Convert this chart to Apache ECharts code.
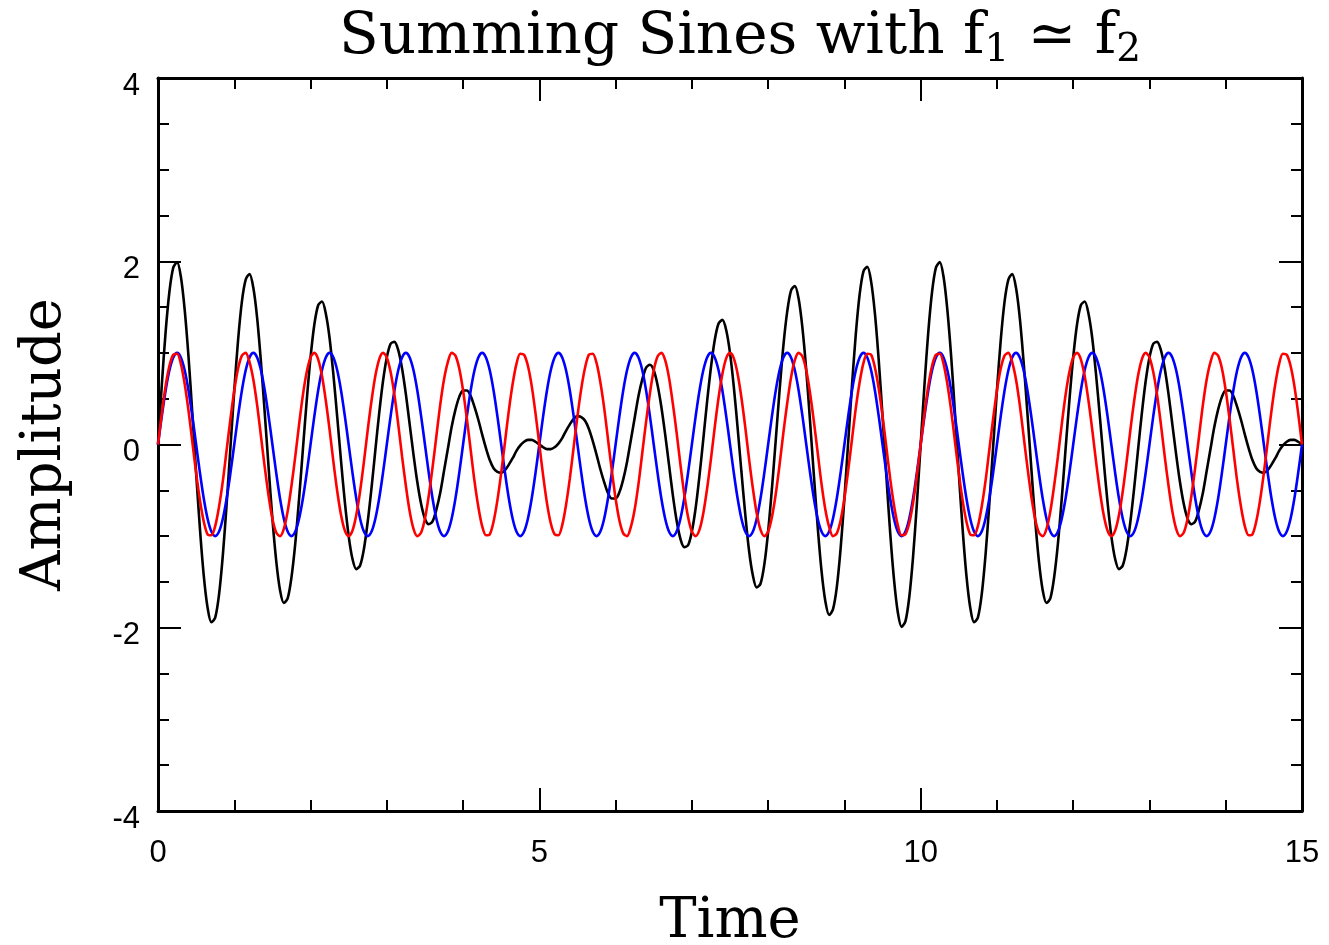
<!DOCTYPE html>
<html>
<head>
<meta charset="utf-8">
<script src="https://cdn.jsdelivr.net/npm/echarts@6/dist/echarts.min.js"></script>
<style>html,body{margin:0;padding:0;background:#fff}#chart{width:1329px;height:945px}</style>
</head>
<body>
<div id="chart"></div>
<script>
const titleParts = ['Summing Sines with f', '1', ' \u2243 f', '2'];
const xTitle = 'Time';
const yTitle = 'Amplitude';
const xTicks = [0, 5, 10, 15];
const yTicks = [-4, -2, 0, 2, 4];

const time = [
0,0.05,0.1,0.15,0.2,0.25,0.3,0.35,0.4,0.45,0.5,0.55,0.6,0.65,0.7,0.75,0.8,0.85,0.9,0.95,
1,1.05,1.1,1.15,1.2,1.25,1.3,1.35,1.4,1.45,1.5,1.55,1.6,1.65,1.7,1.75,1.8,1.85,1.9,1.95,
2,2.05,2.1,2.15,2.2,2.25,2.3,2.35,2.4,2.45,2.5,2.55,2.6,2.65,2.7,2.75,2.8,2.85,2.9,2.95,
3,3.05,3.1,3.15,3.2,3.25,3.3,3.35,3.4,3.45,3.5,3.55,3.6,3.65,3.7,3.75,3.8,3.85,3.9,3.95,
4,4.05,4.1,4.15,4.2,4.25,4.3,4.35,4.4,4.45,4.5,4.55,4.6,4.65,4.7,4.75,4.8,4.85,4.9,4.95,
5,5.05,5.1,5.15,5.2,5.25,5.3,5.35,5.4,5.45,5.5,5.55,5.6,5.65,5.7,5.75,5.8,5.85,5.9,5.95,
6,6.05,6.1,6.15,6.2,6.25,6.3,6.35,6.4,6.45,6.5,6.55,6.6,6.65,6.7,6.75,6.8,6.85,6.9,6.95,
7,7.05,7.1,7.15,7.2,7.25,7.3,7.35,7.4,7.45,7.5,7.55,7.6,7.65,7.7,7.75,7.8,7.85,7.9,7.95,
8,8.05,8.1,8.15,8.2,8.25,8.3,8.35,8.4,8.45,8.5,8.55,8.6,8.65,8.7,8.75,8.8,8.85,8.9,8.95,
9,9.05,9.1,9.15,9.2,9.25,9.3,9.35,9.4,9.45,9.5,9.55,9.6,9.65,9.7,9.75,9.8,9.85,9.9,9.95,
10,10.05,10.1,10.15,10.2,10.25,10.3,10.35,10.4,10.45,10.5,10.55,10.6,10.65,10.7,10.75,10.8,10.85,10.9,10.95,
11,11.05,11.1,11.15,11.2,11.25,11.3,11.35,11.4,11.45,11.5,11.55,11.6,11.65,11.7,11.75,11.8,11.85,11.9,11.95,
12,12.05,12.1,12.15,12.2,12.25,12.3,12.35,12.4,12.45,12.5,12.55,12.6,12.65,12.7,12.75,12.8,12.85,12.9,12.95,
13,13.05,13.1,13.15,13.2,13.25,13.3,13.35,13.4,13.45,13.5,13.55,13.6,13.65,13.7,13.75,13.8,13.85,13.9,13.95,
14,14.05,14.1,14.15,14.2,14.25,14.3,14.35,14.4,14.45,14.5,14.55,14.6,14.65,14.7,14.75,14.8,14.85,14.9,14.95,
15
];

const sineF1 = [
0,0.31,0.59,0.81,0.95,1,0.95,0.81,0.59,0.31,0,-0.31,-0.59,-0.81,-0.95,-1,-0.95,-0.81,-0.59,-0.31,
0,0.31,0.59,0.81,0.95,1,0.95,0.81,0.59,0.31,0,-0.31,-0.59,-0.81,-0.95,-1,-0.95,-0.81,-0.59,-0.31,
0,0.31,0.59,0.81,0.95,1,0.95,0.81,0.59,0.31,0,-0.31,-0.59,-0.81,-0.95,-1,-0.95,-0.81,-0.59,-0.31,
0,0.31,0.59,0.81,0.95,1,0.95,0.81,0.59,0.31,0,-0.31,-0.59,-0.81,-0.95,-1,-0.95,-0.81,-0.59,-0.31,
0,0.31,0.59,0.81,0.95,1,0.95,0.81,0.59,0.31,0,-0.31,-0.59,-0.81,-0.95,-1,-0.95,-0.81,-0.59,-0.31,
0,0.31,0.59,0.81,0.95,1,0.95,0.81,0.59,0.31,0,-0.31,-0.59,-0.81,-0.95,-1,-0.95,-0.81,-0.59,-0.31,
0,0.31,0.59,0.81,0.95,1,0.95,0.81,0.59,0.31,0,-0.31,-0.59,-0.81,-0.95,-1,-0.95,-0.81,-0.59,-0.31,
0,0.31,0.59,0.81,0.95,1,0.95,0.81,0.59,0.31,0,-0.31,-0.59,-0.81,-0.95,-1,-0.95,-0.81,-0.59,-0.31,
0,0.31,0.59,0.81,0.95,1,0.95,0.81,0.59,0.31,0,-0.31,-0.59,-0.81,-0.95,-1,-0.95,-0.81,-0.59,-0.31,
0,0.31,0.59,0.81,0.95,1,0.95,0.81,0.59,0.31,0,-0.31,-0.59,-0.81,-0.95,-1,-0.95,-0.81,-0.59,-0.31,
0,0.31,0.59,0.81,0.95,1,0.95,0.81,0.59,0.31,0,-0.31,-0.59,-0.81,-0.95,-1,-0.95,-0.81,-0.59,-0.31,
0,0.31,0.59,0.81,0.95,1,0.95,0.81,0.59,0.31,0,-0.31,-0.59,-0.81,-0.95,-1,-0.95,-0.81,-0.59,-0.31,
0,0.31,0.59,0.81,0.95,1,0.95,0.81,0.59,0.31,0,-0.31,-0.59,-0.81,-0.95,-1,-0.95,-0.81,-0.59,-0.31,
0,0.31,0.59,0.81,0.95,1,0.95,0.81,0.59,0.31,0,-0.31,-0.59,-0.81,-0.95,-1,-0.95,-0.81,-0.59,-0.31,
0,0.31,0.59,0.81,0.95,1,0.95,0.81,0.59,0.31,0,-0.31,-0.59,-0.81,-0.95,-1,-0.95,-0.81,-0.59,-0.31,
0
];

const sineF2 = [
0,0.34,0.64,0.86,0.98,0.99,0.88,0.66,0.37,0.03,-0.31,-0.61,-0.84,-0.98,-0.99,-0.89,-0.68,-0.4,-0.06,0.28,
0.59,0.83,0.97,1,0.9,0.71,0.43,0.09,-0.25,-0.56,-0.81,-0.96,-1,-0.92,-0.73,-0.45,-0.13,0.22,0.54,0.79,
0.95,1,0.93,0.75,0.48,0.16,-0.19,-0.51,-0.77,-0.94,-1,-0.94,-0.77,-0.51,-0.19,0.16,0.48,0.75,0.93,1,
0.95,0.79,0.54,0.22,-0.13,-0.45,-0.73,-0.92,-1,-0.96,-0.81,-0.56,-0.25,0.09,0.43,0.71,0.9,1,0.97,0.83,
0.59,0.28,-0.06,-0.4,-0.68,-0.89,-0.99,-0.98,-0.84,-0.61,-0.31,0.03,0.37,0.66,0.88,0.99,0.98,0.86,0.64,0.34,
0,-0.34,-0.64,-0.86,-0.98,-0.99,-0.88,-0.66,-0.37,-0.03,0.31,0.61,0.84,0.98,0.99,0.89,0.68,0.4,0.06,-0.28,
-0.59,-0.83,-0.97,-1,-0.9,-0.71,-0.43,-0.09,0.25,0.56,0.81,0.96,1,0.92,0.73,0.45,0.13,-0.22,-0.54,-0.79,
-0.95,-1,-0.93,-0.75,-0.48,-0.16,0.19,0.51,0.77,0.94,1,0.94,0.77,0.51,0.19,-0.16,-0.48,-0.75,-0.93,-1,
-0.95,-0.79,-0.54,-0.22,0.13,0.45,0.73,0.92,1,0.96,0.81,0.56,0.25,-0.09,-0.43,-0.71,-0.9,-1,-0.97,-0.83,
-0.59,-0.28,0.06,0.4,0.68,0.89,0.99,0.98,0.84,0.61,0.31,-0.03,-0.37,-0.66,-0.88,-0.99,-0.98,-0.86,-0.64,-0.34,
0,0.34,0.64,0.86,0.98,0.99,0.88,0.66,0.37,0.03,-0.31,-0.61,-0.84,-0.98,-0.99,-0.89,-0.68,-0.4,-0.06,0.28,
0.59,0.83,0.97,1,0.9,0.71,0.43,0.09,-0.25,-0.56,-0.81,-0.96,-1,-0.92,-0.73,-0.45,-0.13,0.22,0.54,0.79,
0.95,1,0.93,0.75,0.48,0.16,-0.19,-0.51,-0.77,-0.94,-1,-0.94,-0.77,-0.51,-0.19,0.16,0.48,0.75,0.93,1,
0.95,0.79,0.54,0.22,-0.13,-0.45,-0.73,-0.92,-1,-0.96,-0.81,-0.56,-0.25,0.09,0.43,0.71,0.9,1,0.97,0.83,
0.59,0.28,-0.06,-0.4,-0.68,-0.89,-0.99,-0.98,-0.84,-0.61,-0.31,0.03,0.37,0.66,0.88,0.99,0.98,0.86,0.64,0.34,
0
];

const sumSines = [
0,0.65,1.23,1.67,1.93,1.99,1.83,1.47,0.96,0.34,-0.31,-0.92,-1.43,-1.78,-1.94,-1.89,-1.64,-1.21,-0.65,-0.03,
0.59,1.14,1.56,1.8,1.86,1.71,1.38,0.9,0.34,-0.25,-0.81,-1.27,-1.59,-1.73,-1.68,-1.45,-1.08,-0.59,-0.05,0.48,
0.95,1.31,1.52,1.56,1.43,1.16,0.76,0.3,-0.18,-0.63,-1,-1.25,-1.36,-1.32,-1.14,-0.84,-0.47,-0.06,0.34,0.69,
0.95,1.1,1.12,1.03,0.83,0.55,0.22,-0.11,-0.41,-0.65,-0.81,-0.87,-0.84,-0.71,-0.53,-0.29,-0.05,0.19,0.38,0.52,
0.59,0.59,0.53,0.41,0.27,0.11,-0.04,-0.17,-0.26,-0.3,-0.31,-0.28,-0.22,-0.15,-0.07,-0.01,0.03,0.05,0.05,0.03,
0,-0.03,-0.05,-0.05,-0.03,0.01,0.07,0.15,0.22,0.28,0.31,0.3,0.26,0.17,0.04,-0.11,-0.27,-0.41,-0.53,-0.59,
-0.59,-0.52,-0.38,-0.19,0.05,0.29,0.53,0.71,0.84,0.87,0.81,0.65,0.41,0.11,-0.22,-0.55,-0.83,-1.03,-1.12,-1.1,
-0.95,-0.69,-0.34,0.06,0.47,0.84,1.14,1.32,1.36,1.25,1,0.63,0.18,-0.3,-0.76,-1.16,-1.43,-1.56,-1.52,-1.31,
-0.95,-0.48,0.05,0.59,1.08,1.45,1.68,1.73,1.59,1.27,0.81,0.25,-0.34,-0.9,-1.38,-1.71,-1.86,-1.8,-1.56,-1.14,
-0.59,0.03,0.65,1.21,1.64,1.89,1.94,1.78,1.43,0.92,0.31,-0.34,-0.96,-1.47,-1.83,-1.99,-1.93,-1.67,-1.23,-0.65,
0,0.65,1.23,1.67,1.93,1.99,1.83,1.47,0.96,0.34,-0.31,-0.92,-1.43,-1.78,-1.94,-1.89,-1.64,-1.21,-0.65,-0.03,
0.59,1.14,1.56,1.8,1.86,1.71,1.38,0.9,0.34,-0.25,-0.81,-1.27,-1.59,-1.73,-1.68,-1.45,-1.08,-0.59,-0.05,0.48,
0.95,1.31,1.52,1.56,1.43,1.16,0.76,0.3,-0.18,-0.63,-1,-1.25,-1.36,-1.32,-1.14,-0.84,-0.47,-0.06,0.34,0.69,
0.95,1.1,1.12,1.03,0.83,0.55,0.22,-0.11,-0.41,-0.65,-0.81,-0.87,-0.84,-0.71,-0.53,-0.29,-0.05,0.19,0.38,0.52,
0.59,0.59,0.53,0.41,0.27,0.11,-0.04,-0.17,-0.26,-0.3,-0.31,-0.28,-0.22,-0.15,-0.07,-0.01,0.03,0.05,0.05,0.03,
0
];

const pairs = arr => time.map((t, i) => [t, arr[i]]);

const chart = echarts.init(document.getElementById('chart'), null, {renderer: 'canvas'});

const black = '#000000';
const lineW = 2.6;
const frameLine = {show: true, onZero: false, lineStyle: {color: black, width: 3}};
const tickStyle = {color: black, width: 2};
const serif = "'DejaVu Serif', serif";
const sans = "'Liberation Sans', Arial, sans-serif";

function xAx(pos, showLabel) {
  return {
    type: 'value', position: pos,
    min: xTicks[0], max: xTicks[xTicks.length - 1], interval: xTicks[1] - xTicks[0],
    axisLine: frameLine,
    axisTick: {show: true, inside: true, length: 23, lineStyle: tickStyle},
    minorTick: {show: true, splitNumber: 5, length: 11, lineStyle: tickStyle},
    splitLine: {show: false},
    axisLabel: {show: showLabel, fontFamily: sans, fontSize: 31, color: black, margin: 27},
    name: showLabel ? xTitle : '', nameLocation: 'middle', nameGap: 83,
    nameTextStyle: {fontFamily: serif, fontSize: 56, color: black}
  };
}
function yAx(pos, showLabel) {
  return {
    type: 'value', position: pos,
    min: yTicks[0], max: yTicks[yTicks.length - 1], interval: yTicks[1] - yTicks[0],
    axisLine: frameLine,
    axisTick: {show: true, inside: true, length: 23, lineStyle: tickStyle},
    minorTick: {show: true, splitNumber: 4, length: 11, lineStyle: tickStyle},
    splitLine: {show: false},
    axisLabel: {show: showLabel, fontFamily: sans, fontSize: 31, color: black, margin: 18,
                verticalAlign: 'top', lineHeight: 16},
    name: showLabel ? yTitle : '', nameLocation: 'middle', nameGap: 85,
    nameTextStyle: {fontFamily: serif, fontSize: 56, color: black}
  };
}

const option = {
  animation: false,
  backgroundColor: '#ffffff',
  title: {
    text: '{m|' + titleParts[0] + '}{s|' + titleParts[1] + '}{m|' + titleParts[2] + '}{s|' + titleParts[3] + '}',
    left: 740, top: 6, padding: 0, textAlign: 'center',
    textStyle: {
      fontFamily: serif, fontSize: 58, fontWeight: 'normal', color: black,
      rich: {
        m: {fontFamily: serif, fontSize: 58, lineHeight: 64, color: black},
        s: {fontFamily: serif, fontSize: 39, lineHeight: 22, verticalAlign: 'bottom', color: black}
      }
    }
  },
  grid: {left: 158, top: 78, width: 1144, height: 733, containLabel: false, outerBoundsMode: 'none'},
  xAxis: [xAx('bottom', true), xAx('top', false)],
  yAxis: [yAx('left', true), yAx('right', false)],
  series: [
    {name: 'sum', type: 'line', data: pairs(sumSines), showSymbol: false, smooth: 0.3,
     lineStyle: {color: '#000000', width: lineW}, itemStyle: {color: '#000000'}, z: 2},
    {name: 'f1', type: 'line', data: pairs(sineF1), showSymbol: false, smooth: 0.3,
     lineStyle: {color: '#0000ff', width: lineW}, itemStyle: {color: '#0000ff'}, z: 3},
    {name: 'f2', type: 'line', data: pairs(sineF2), showSymbol: false, smooth: 0.3,
     lineStyle: {color: '#ff0000', width: lineW}, itemStyle: {color: '#ff0000'}, z: 4}
  ]
};
chart.setOption(option);
</script>
</body>
</html>
